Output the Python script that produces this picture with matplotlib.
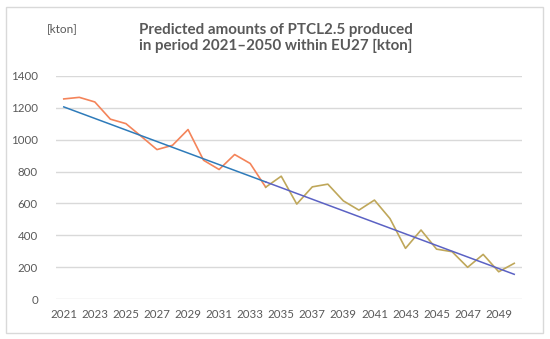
import matplotlib
matplotlib.use("Agg")
import matplotlib.pyplot as plt
from matplotlib.patches import Rectangle

years = list(range(2021, 2051))
values = [1256, 1266, 1237, 1129, 1101, 1020, 938, 965, 1064, 871,
          813, 907, 851, 702, 771, 596, 704, 721, 616, 558,
          621, 505, 318, 433, 313, 297, 199, 280, 171, 224]
split_year = 2034
trend_years = [2021, 2034, 2050]
trend_values = [1206, 735, 155]
y_ticks = [0, 200, 400, 600, 800, 1000, 1200, 1400]
x_ticks = list(range(2021, 2050, 2))
title = "Predicted amounts of PTCL2.5 produced\nin period 2021\u20132050 within EU27 [kton]"
unit = "[kton]"

W, H = 550, 339
fig = plt.figure(figsize=(W / 100, H / 100), dpi=100)
plt.rcParams['font.family'] = ['Lato', 'DejaVu Sans']

# outer border
fig.patches.append(Rectangle((6 / W, (H - 333) / H), 537 / W, 326 / H,
                             transform=fig.transFigure, fill=False,
                             edgecolor='#D9D9D9', lw=1.0))

ax = fig.add_axes([56 / W, (H - 299) / H, 466 / W, 223 / H])
ax.set_xlim(2020.5, 2050.5)
ax.set_ylim(0, 1400)
ax.set_yticks(y_ticks)
ax.set_xticks(x_ticks)
ax.set_xticklabels([str(y) for y in x_ticks])
for s in ax.spines.values():
    s.set_visible(False)
ax.grid(axis='y', color='#D9D9D9', lw=1.0)
ax.set_axisbelow(True)
ax.tick_params(axis='both', length=0, colors='#595959', labelsize=8.3)
ax.tick_params(axis='y', pad=13)
ax.tick_params(axis='x', pad=7)

i = years.index(split_year)
ax.plot(years[:i + 1], values[:i + 1], color='#F4845A', lw=1.2, clip_on=False)
ax.plot(years[i:], values[i:], color='#BFA75A', lw=1.2, clip_on=False)
ax.plot(trend_years[:2], trend_values[:2], color='#2E7BBA', lw=1.1, clip_on=False)
ax.plot(trend_years[1:], trend_values[1:], color='#5B62C4', lw=1.1, clip_on=False)

fig.text(276 / W, 1 - 38 / H, title, ha='center', va='center',
         fontsize=10.9, fontweight='bold', color='#595959', linespacing=1.1)
fig.text(62 / W, 1 - 29 / H, unit, ha='center', va='center',
         fontsize=8.5, color='#595959')

fig.savefig("out.png", dpi=100)
